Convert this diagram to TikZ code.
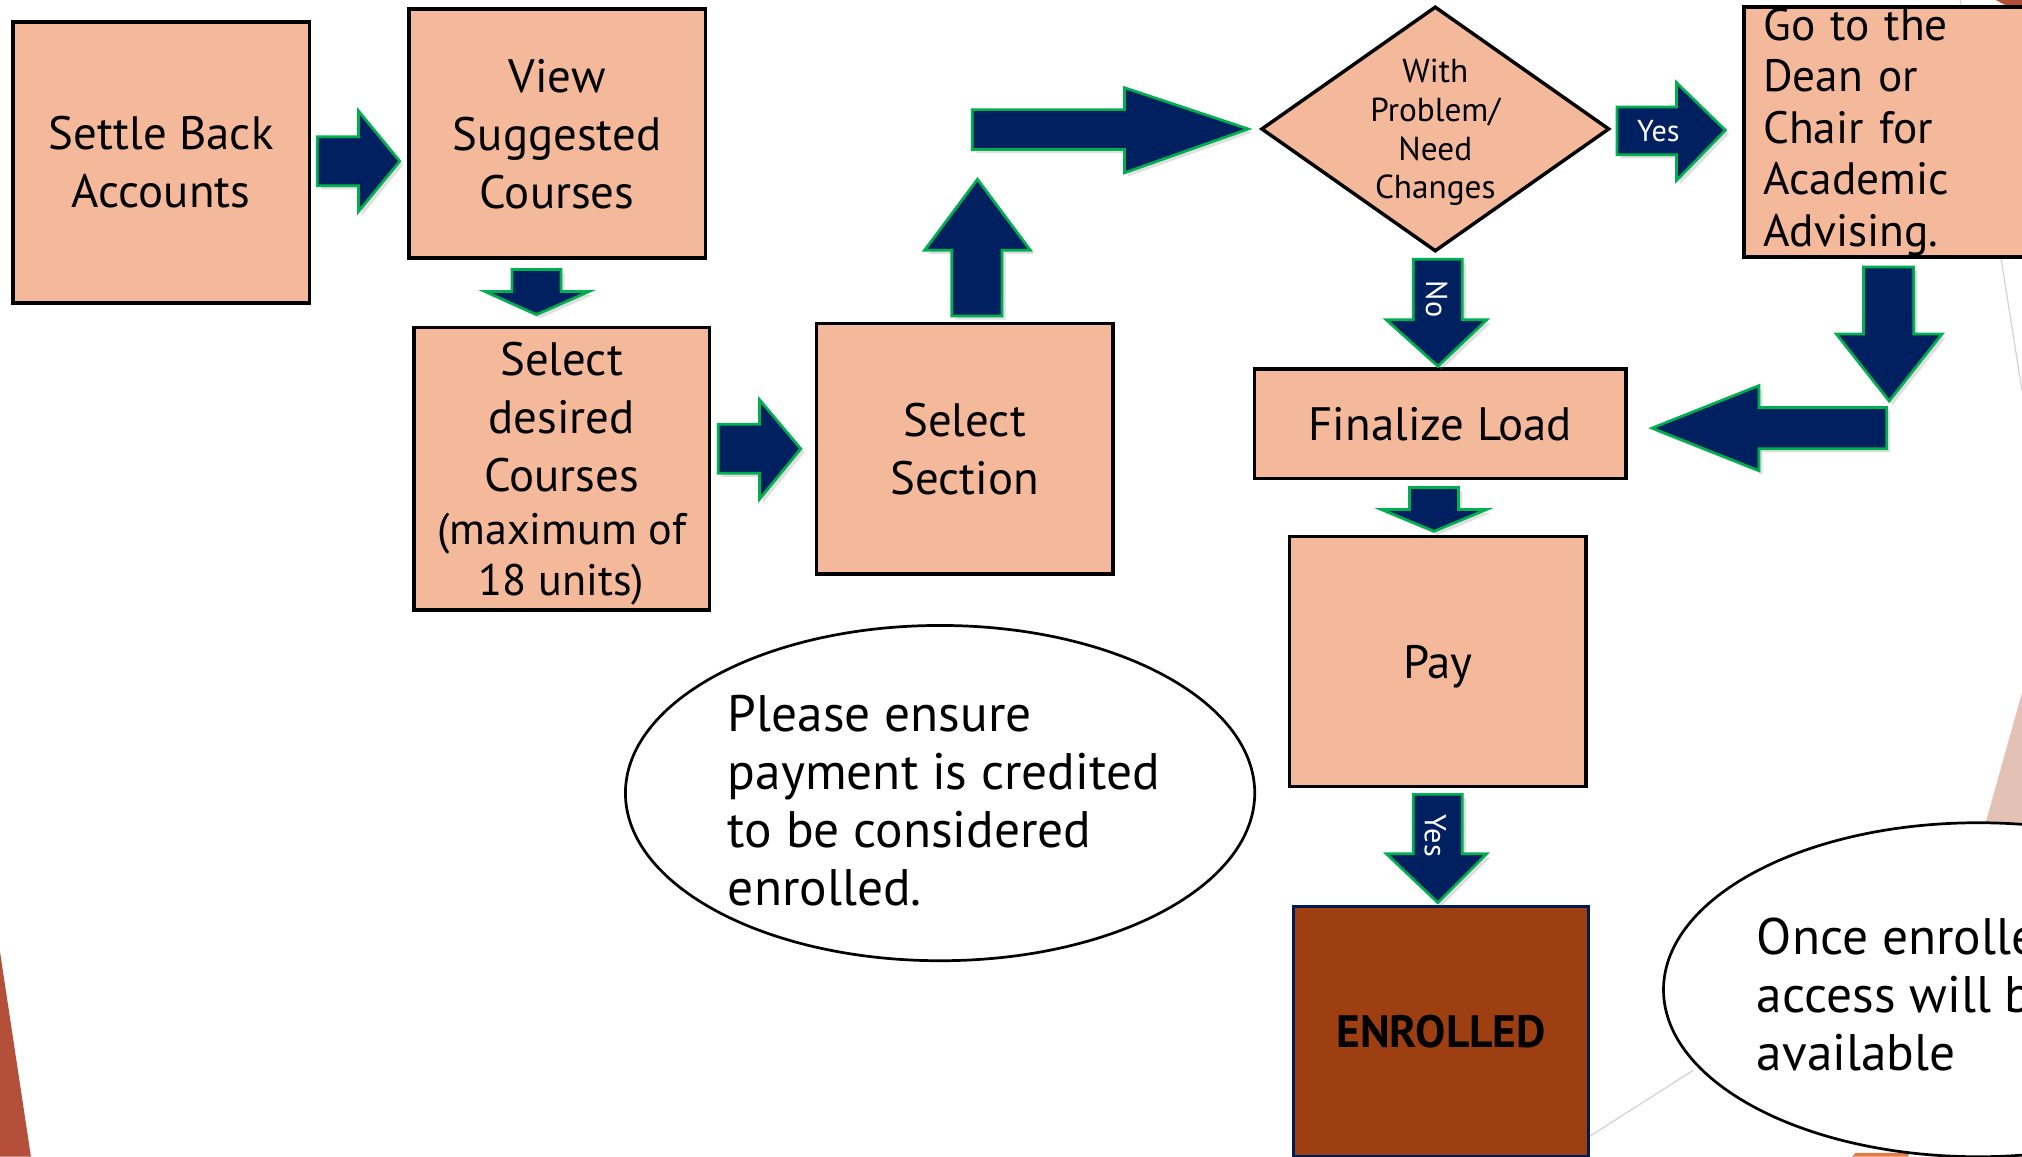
\documentclass[tikz,border=0pt]{standalone}
\usepackage{fontspec}
\setmainfont{PT Sans}
\usetikzlibrary{shapes.geometric,shadows}
\definecolor{peach}{HTML}{F4B99B}
\definecolor{navy}{HTML}{002060}
\definecolor{agreen}{HTML}{00B050}
\definecolor{rust}{HTML}{9E3F12}
\definecolor{bgbrown}{HTML}{B4503A}
\definecolor{bgpink}{HTML}{E3C1B5}
\definecolor{bgorange}{HTML}{E07B4A}
\newcommand\pxl{0.015cm}
\begin{document}
\begin{tikzpicture}[x=0.015cm,y=-0.015cm,
  box/.style={draw=black, line width=1.15pt, fill=peach, align=center,
    font=\fontsize{15.5}{19.2}\selectfont, inner sep=0pt},
  barrow/.style={fill=navy, draw=agreen, line width=0.9pt, line join=miter,
    drop shadow={shadow xshift=1.2pt, shadow yshift=-1.2pt, opacity=0.25}},
  note/.style={ellipse, draw=black, line width=0.9pt, fill=white, inner sep=0pt},
  notetext/.style={anchor=west, align=left, inner sep=0pt, font=\fontsize{17}{19.2}\selectfont},
  lab/.style={text=white, font=\fontsize{10}{12}\selectfont, inner sep=0pt},
  bgline/.style={draw=gray!35, line width=0.4pt}
]
\useasboundingbox (0,0) rectangle (1568,897);
\clip (0,0) rectangle (1568,897);

% background slide decorations
\fill[bgbrown] (0,738) -- (24,897) -- (0,897) -- cycle;
\fill[bgpink] (1568,537) -- (1528,680) -- (1568,680) -- cycle;
\fill[bgbrown] (1544,-2) -- (1570,-2) -- (1570,12) -- cycle;
\fill[bgorange] (1436,897) -- (1439,894) -- (1480,894) -- (1480,897) -- cycle;
\draw[bgline] (1520,0) -- (1568,303);
\coordinate (g1) at (1233,881);
\coordinate (g2) at (1313,830);
\draw[bgline] (g1) -- (g2);

% boxes
\node[box, minimum width=230*\pxl, minimum height=218*\pxl] (settle) at (125,126) {Settle Back\\Accounts};
\node[box, minimum width=230*\pxl, minimum height=193*\pxl, text depth=0pt] (view) at (432,103.5) {View\\Suggested\\Courses};
\node[box, minimum width=229*\pxl, minimum height=219*\pxl, text depth=0pt] (desired) at (435.5,363.5)
  {Select\\desired\\Courses\\[-1.5pt]{\fontsize{14.6}{17}\selectfont (maximum of}\\[-2.5pt]{\fontsize{14.6}{17}\selectfont 18 units)}};
\node[box, minimum width=230*\pxl, minimum height=194*\pxl] (section) at (748,348) {Select\\Section};
\node[diamond, draw=black, line width=1.15pt, fill=peach, minimum width=270*\pxl,
  minimum height=190*\pxl, aspect=1.42, inner sep=0pt, align=center, text depth=0pt,
  font=\fontsize{11}{12.8}\selectfont] (dec) at (1113,100) {With\\Problem/\\Need\\Changes};
\node[box, anchor=north west, align=left, text width=230*\pxl, inner xsep=15*\pxl,
  minimum height=194*\pxl, font=\fontsize{15}{17}\selectfont] (dean) at (1351,4)
  {Go to the\\Dean or\\Chair for\\Academic\\Advising.};
\node[box, minimum width=288*\pxl, minimum height=85*\pxl, text depth=0pt] (final) at (1117,328.5) {Finalize Load};
\node[box, minimum width=230*\pxl, minimum height=194*\pxl, text depth=0pt] (pay) at (1115,513) {Pay};
\node[box, fill=rust, draw=navy!85!black, line width=1pt, minimum width=229*\pxl,
  minimum height=194*\pxl, font=\fontsize{15}{17}\selectfont\bfseries] (enr) at (1117.5,800) {ENROLLED};

% notes
\node[note, minimum width=488*\pxl, minimum height=260*\pxl] (ell1) at (729,615) {};
\node[notetext] (ell1t) at (564,621)
  {Please ensure\\payment is credited\\to be considered\\enrolled.};
\node[note, minimum width=488*\pxl, minimum height=259*\pxl] (ell2) at (1534,767.5) {};
\node[notetext] (ell2t) at (1362,771)
  {Once enrolled\\access will be\\available};

% block arrows
\path[barrow] (246,106) -- (278,106) -- (278,86) -- (310,125) -- (278,164) -- (278,144) -- (246,144) -- cycle;
\path[barrow] (397,209) -- (435,209) -- (435,226) -- (457,226) -- (416,244) -- (376,226) -- (397,226) -- cycle;
\path[barrow] (557,329) -- (589,329) -- (589,310) -- (621,348) -- (589,387) -- (589,367) -- (557,367) -- cycle;
\path[barrow] (738,245) -- (738,194) -- (717,194) -- (758,139) -- (799,194) -- (777,194) -- (777,245) -- cycle;
\path[barrow] (754,85) -- (872,85) -- (872,68) -- (968,100) -- (872,134) -- (872,116) -- (754,116) -- cycle;
\path[barrow] (1254,83) -- (1300,83) -- (1300,64) -- (1338,101) -- (1300,140) -- (1300,120) -- (1254,120) -- cycle;
\node[lab] (yes1) at (1286,102) {Yes};
\path[barrow] (1096,201) -- (1134,201) -- (1134,248) -- (1153,248) -- (1115,284) -- (1075,248) -- (1096,248) -- cycle;
\node[lab, rotate=-90] (no1) at (1114,232) {No};
\path[barrow] (1445,207) -- (1484,207) -- (1484,259) -- (1506,259) -- (1465,311) -- (1424,259) -- (1445,259) -- cycle;
\path[barrow] (1463,316) -- (1463,348) -- (1364,348) -- (1364,365) -- (1281,332) -- (1364,299) -- (1364,316) -- cycle;
\path[barrow] (1093,378) -- (1131,378) -- (1131,395) -- (1153,395) -- (1112,412) -- (1071,395) -- (1093,395) -- cycle;
\path[barrow] (1096,616) -- (1134,616) -- (1134,662) -- (1153,662) -- (1115,700) -- (1075,662) -- (1096,662) -- cycle;
\node[lab, rotate=-90] (yes2) at (1113,648) {Yes};
\end{tikzpicture}
\end{document}
